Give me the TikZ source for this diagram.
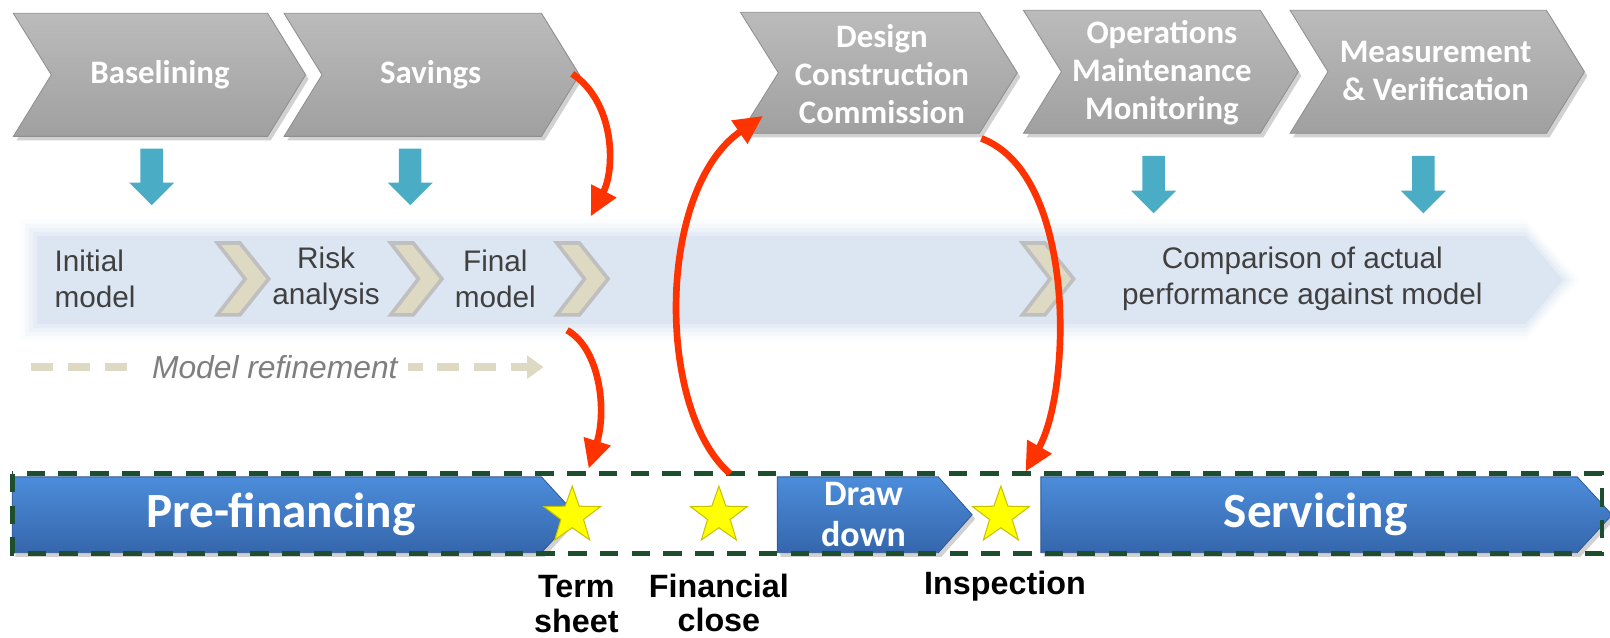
\documentclass[tikz,border=0pt]{standalone}
\usepackage{fontspec}
\setmainfont{Liberation Sans}
\newfontfamily\calib{Carlito}
\usetikzlibrary{arrows.meta,shapes.geometric}
\definecolor{chevtop}{HTML}{BBBBBB}
\definecolor{chevbot}{HTML}{A0A0A0}
\definecolor{chevedge}{HTML}{8E8E8E}
\definecolor{bluetop}{HTML}{4C8DDA}
\definecolor{bluebot}{HTML}{3566AC}
\definecolor{blueedge}{HTML}{2E5A96}
\definecolor{tealc}{HTML}{4BACC6}
\definecolor{bandblue}{HTML}{DCE6F2}
\definecolor{beige}{HTML}{DDD9C3}
\definecolor{beigeedge}{HTML}{BFBFBF}
\definecolor{redc}{HTML}{FF3300}
\definecolor{dgreen}{HTML}{1D4E2E}
\definecolor{textgray}{HTML}{404040}
\definecolor{italgray}{HTML}{7F7F7F}
\definecolor{staryellow}{HTML}{FFFF00}
\definecolor{stardark}{HTML}{C8C000}
\newcommand\chevron[6]{%
 \path[#1] (#2,#4) -- ({#3-#6},#4) -- (#3,{(#4+#5)/2}) -- ({#3-#6},#5) -- (#2,#5) -- ({#2+#6},{(#4+#5)/2}) -- cycle;}
\newcommand\barrow[6]{%
 \path[#1] (#2,#4) -- ({#3-#6},#4) -- (#3,{(#4+#5)/2}) -- ({#3-#6},#5) -- (#2,#5) -- cycle;}
\newcommand\tealdown[3]{% centre x, top y, bottom y
 \path[tealarrowshape] ({#1-11},#2) -- ({#1+11},#2) -- ({#1+11},{#3-22}) -- ({#1+22},{#3-22}) -- (#1,#3) -- ({#1-22},{#3-22}) -- ({#1-11},{#3-22}) -- cycle;}
\newcommand\smallchev[1]{%
 \path[beigechev] (#1,237) -- ({#1+22},237) -- ({#1+50},272) -- ({#1+22},307) -- (#1,307) -- ({#1+27},272) -- cycle;}
\tikzset{
 toptext/.style={text=white, font=\calib\bfseries\fontsize{32}{37}\selectfont, align=center, inner sep=0pt},
 bandtext/.style={text=textgray, font=\fontsize{29}{35}\selectfont, align=center, inner sep=0pt},
 labeltext/.style={text=black, font=\bfseries\fontsize{31.5}{34}\selectfont, align=center, inner sep=0pt},
 bigtext/.style={text=white, font=\calib\bfseries\fontsize{48}{52}\selectfont, inner sep=0pt},
 midtext/.style={text=white, font=\calib\bfseries\fontsize{35}{40}\selectfont, align=center, inner sep=0pt},
 mystar/.style={star, star points=5, star point ratio=2.5, minimum size=58pt, inner sep=0pt, fill=staryellow, draw=stardark, line width=1pt},
 redarrow/.style={draw=redc, line width=6.5pt, -{Triangle[length=28pt,width=26pt]}},
 grayshape/.style={top color=chevtop, bottom color=chevbot, draw=chevedge, line width=0.8pt},
 blueshape/.style={top color=bluetop, bottom color=bluebot, draw=blueedge, line width=0.8pt},
 shadowshape/.style={fill=black, opacity=0.18, xshift=3pt, yshift=-4pt},
 tealarrowshape/.style={fill=tealc},
 beigechev/.style={fill=beige, draw=beigeedge, line width=3.5pt, line join=miter},
 refline/.style={draw=beige, line width=8pt, dash pattern=on 22pt off 14pt, -{Triangle[length=16pt,width=22pt]}},
 frame/.style={draw=dgreen, line width=4.5pt, dash pattern=on 18pt off 13pt},
 glow/.style={fill=bandblue, opacity=#1},
}
\begin{document}
\begin{tikzpicture}[x=1pt,y=-1pt]
\useasboundingbox (0,0) rectangle (1570,621.2);
% top chevrons
\foreach \a/\b/\c/\d in {13/298/13/133, 277/565/13/133, 722/992/12/130, 998/1266/10/130, 1258/1545/10/130}{
 \chevron{shadowshape}{\a}{\b}{\c}{\d}{37}
 \chevron{grayshape}{\a}{\b}{\c}{\d}{37}
}
\node[toptext] (baselining) at (156,73) {Baselining};
\node[toptext] (savings) at (420,73) {Savings};
\node[toptext] (design) at (860,72) {Design\\Construction\\Commission};
\node[toptext] (operations) at (1133,71) {Operations\\Maintenance\\Monitoring};
\node[toptext] (measure) at (1400,69) {Measurement\\\& Verification};
% teal arrows
\tealdown{148}{145}{200}
\tealdown{400}{145}{200}
\tealdown{1125}{152}{208}
\tealdown{1388}{152}{208}
% band (soft edges)
\foreach \e/\o in {16/0.12, 12/0.18, 8/0.28, 4/0.45}{
 \path[glow=\o] ({36-\e},{230-\e}) -- (1488,{230-\e}) -- ({1524+\e},273) -- (1488,{316+\e}) -- ({36-\e},{316+\e}) -- cycle;
}
\path[fill=bandblue] (36,230) -- (1488,230) -- (1524,273) -- (1488,316) -- (36,316) -- cycle;
\smallchev{212}
\smallchev{381}
\smallchev{543}
\smallchev{997}
\node[bandtext, anchor=west, align=left] (initial) at (53,272) {Initial\\model};
\node[bandtext] (risk) at (318,272) {Risk\\analysis};
\node[bandtext] (final) at (483,272) {Final\\model};
\node[bandtext] (comparison) at (1270,272) {Comparison of actual\\performance against model};
% model refinement
\coordinate (refstart) at (30,358);
\coordinate (refend) at (530,358);
\draw[refline] (refstart) -- (refend);
\node[fill=white, inner xsep=10pt, inner ysep=2pt, text=italgray, font=\itshape\fontsize{31}{36}\selectfont] (refine) at (268,358) {Model refinement};
% bottom
\barrow{shadowshape}{12}{562}{465}{539}{34}
\barrow{blueshape}{12}{562}{465}{539}{34}
\barrow{shadowshape}{758}{948}{465}{539}{33}
\barrow{blueshape}{758}{948}{465}{539}{33}
\barrow{shadowshape}{1015}{1572}{465}{539}{34}
\barrow{blueshape}{1015}{1572}{465}{539}{34}
\draw[frame] (12,462) rectangle (1562,540);
\node[bigtext] (prefin) at (274,502) {Pre-financing};
\node[midtext] (drawdown) at (842,502) {Draw\\down};
\node[bigtext] (servicing) at (1283,502) {Servicing};
\node[mystar] (star1) at (558,503) {};
\node[mystar] (star2) at (701,503) {};
\node[mystar] (star3) at (976,503) {};
\node[labeltext] (term) at (562,589) {Term\\sheet};
\node[labeltext] (fclose) at (701,588) {Financial\\close};
\node[labeltext] (inspect) at (980,572) {Inspection};
% red arrows
\coordinate (r1s) at (558,72);
\coordinate (r1e) at (576,211);
\coordinate (r2s) at (553,322);
\coordinate (r2e) at (574,457);
\coordinate (r3s) at (712,462);
\coordinate (r3e) at (744,113);
\coordinate (r4s) at (957,135);
\coordinate (r4e) at (1000,460);
\draw[redarrow] (r1s) .. controls (600,100) and (600,165) .. (r1e);
\draw[redarrow] (r2s) .. controls (585,340) and (592,400) .. (r2e);
\draw[redarrow] (r3s) .. controls (640,400) and (640,185) .. (r3e);
\draw[redarrow] (r4s) .. controls (1050,170) and (1045,380) .. (r4e);
\end{tikzpicture}
\end{document}
